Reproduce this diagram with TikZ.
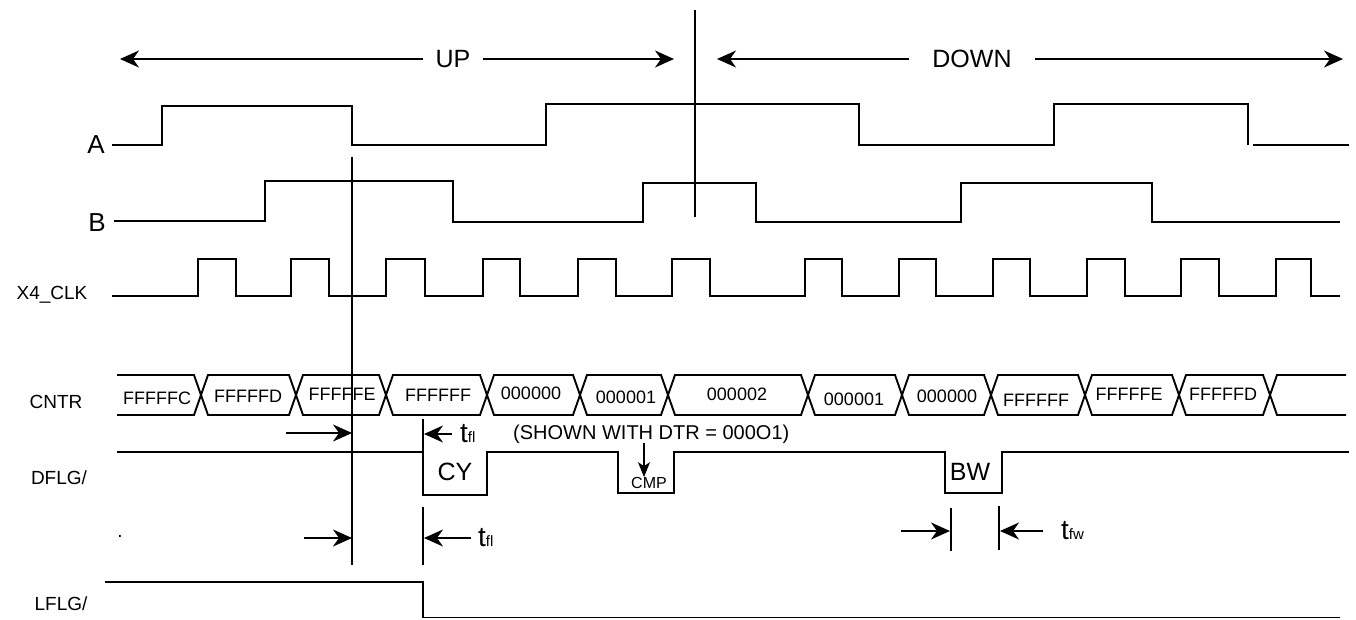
\documentclass[tikz,border=0pt]{standalone}
\usepackage{fontspec}
\setmainfont{Liberation Sans}
\usetikzlibrary{arrows.meta}

\newcommand{\bigtxt}{\fontsize{25}{30}\selectfont}
\newcommand{\lbltxt}{\fontsize{19}{23}\selectfont}
\newcommand{\hextxt}{\fontsize{18}{22}\selectfont}
\newcommand{\subtxt}{\fontsize{15}{18}\selectfont}
\newcommand{\tsub}[1]{{\fontsize{28}{32}\selectfont t}{\subtxt #1}}

\begin{document}
\begin{tikzpicture}[x=1pt,y=-1pt,
	wave/.style={line width=1.9pt},
	cursor/.style={line width=1.5pt},
	dim/.style={line width=1.5pt,-{Stealth[length=19pt,width=17pt,inset=6pt]}},
	lbl/.style={inner sep=0pt,font=\lbltxt},
	hex/.style={inner sep=0pt,font=\hextxt},
	big/.style={inner sep=0pt,font=\bigtxt}]

	\useasboundingbox (0,0) rectangle (1356,620);

	% count direction
	\node[big,inner xsep=12pt] (up) at (453,59) {UP};
	\node[big,inner xsep=23pt] (down) at (972,59) {DOWN};
	\coordinate (upL) at (120,59);
	\coordinate (upR) at (674,59);
	\coordinate (dnL) at (717,59);
	\coordinate (dnR) at (1343,59);
	\draw[dim] (up) -- (upL);
	\draw[dim] (up) -- (upR);
	\draw[dim] (down) -- (dnL);
	\draw[dim] (down) -- (dnR);

	% signal names
	\node[inner sep=0pt,font=\fontsize{26}{30}\selectfont] (A) at (96,145) {A};
	\node[inner sep=0pt,font=\fontsize{26}{30}\selectfont] (B) at (97,223) {B};
	\node[lbl] (clk) at (52,295) {X4\_CLK};
	\node[lbl] (cntr) at (56,402) {CNTR};
	\node[lbl] (dflg) at (59,478) {DFLG/};
	\node[lbl] (lflg) at (61,604) {LFLG/};
	\node[lbl] (dot) at (120,536) {.};

	% A and B
	\draw[wave] (112,145) -- (162,145) -- (162,106) -- (352,106) -- (352,145) -- (546,145) -- (546,104) -- (859,104) -- (859,145) -- (1054,145) -- (1054,104) -- (1248,104) -- (1248,145);
	\draw[wave] (1253,145) -- (1349,145);
	\draw[wave] (114,221) -- (265,221) -- (265,181) -- (453,181) -- (453,222) -- (643,222) -- (643,183) -- (756,183) -- (756,222) -- (961,222) -- (961,183) -- (1152,183) -- (1152,222) -- (1340,222);

	% X4_CLK
	\draw[wave] (112,296) \foreach \r/\f in {198/236,291/329,386/425,483/520,578/616,672/710,805/842,899/936,993/1030,1087/1125,1181/1219,1276/1311} { -- (\r,296) -- (\r,259) -- (\f,259) -- (\f,296) } -- (1340,296);

	% CNTR
	\draw[wave] (117,375) -- (194,375) -- (201,395) -- (194,415) -- (117,415);
	\foreach \a/\b in {201/296,296/386,386/487,487/580,580/668,668/808,808/902,902/991,991/1085,1085/1179,1179/1270}
		\draw[wave] (\a,395) -- (\a+7,375) -- (\b-7,375) -- (\b,395) -- (\b-7,415) -- (\a+7,415) -- cycle;
	\draw[wave] (1346,375) -- (1277,375) -- (1270,395) -- (1277,415) -- (1346,415);
	\node[hex] (v1) at (157,398) {FFFFFC};
	\node[hex] (v2) at (248,396) {FFFFFD};
	\node[hex] (v3) at (342,394) {FFFFFE};
	\node[hex] (v4) at (438,395) {FFFFFF};
	\node[hex] (v5) at (531,393) {000000};
	\node[hex] (v6) at (626,397) {000001};
	\node[hex] (v7) at (737,394) {000002};
	\node[hex] (v8) at (854,399) {000001};
	\node[hex] (v9) at (947,396) {000000};
	\node[hex] (v10) at (1036,400) {FFFFFF};
	\node[hex] (v11) at (1129,394) {FFFFFE};
	\node[hex] (v12) at (1223,394) {FFFFFD};

	% DFLG/ and LFLG/
	\draw[wave] (117,452) -- (423,452) -- (423,495) -- (487,495) -- (487,452) -- (618,452) -- (618,493) -- (674,493) -- (674,452) -- (945,452) -- (945,493) -- (1002,493) -- (1002,452) -- (1349,452);
	\draw[wave] (105,582) -- (423,582) -- (423,617.5) -- (1340,617.5);
	\node[big] (cy) at (455,472) {CY};
	\node[big] (bw) at (970,472) {BW};
	\node[inner sep=0pt,font=\fontsize{16}{19}\selectfont] (cmp) at (649,483) {CMP};
	\node[inner sep=0pt,font=\fontsize{20}{24}\selectfont,anchor=west] (dtr) at (513,434) {(SHOWN WITH DTR = 000O1)};

	% cursors
	\coordinate (m1) at (695,10);
	\coordinate (m2) at (695,217);
	\coordinate (c1) at (352,157);
	\coordinate (c2) at (352,565);
	\draw[cursor] (m1) -- (m2);
	\draw[cursor] (c1) -- (c2);
	\draw[cursor] (423,419) -- (423,452);
	\draw[cursor] (423,507) -- (423,565);
	\draw[cursor] (951,508) -- (951,551);
	\draw[cursor] (999,506) -- (999,550);

	% timing marks
	\node[inner sep=0pt,inner xsep=8pt,anchor=west] (tf1) at (452,434) {\tsub{fl}};
	\node[inner sep=0pt,inner xsep=7pt,anchor=west] (tf2) at (471,538) {\tsub{fl}};
	\node[inner sep=0pt,inner xsep=18pt,anchor=west] (tfw) at (1043,531) {\tsub{fw}};
	\coordinate (s1) at (286,433);
	\coordinate (s2) at (304,538);
	\coordinate (s3) at (901,531);
	\draw[dim] (s1) -- (352,433);
	\draw[dim] (tf1.west) -- (424,434);
	\draw[dim] (s2) -- (352,538);
	\draw[dim] (tf2.west) -- (424,538);
	\draw[dim] (s3) -- (950,531);
	\draw[dim] (tfw.west) -- (1000,531);
	\coordinate (cmpA) at (644,443);
	\draw[line width=1.3pt,-{Stealth[length=15pt,width=12pt,inset=4pt]}] (cmpA) -- (cmpA |- cmp.north);
\end{tikzpicture}
\end{document}
